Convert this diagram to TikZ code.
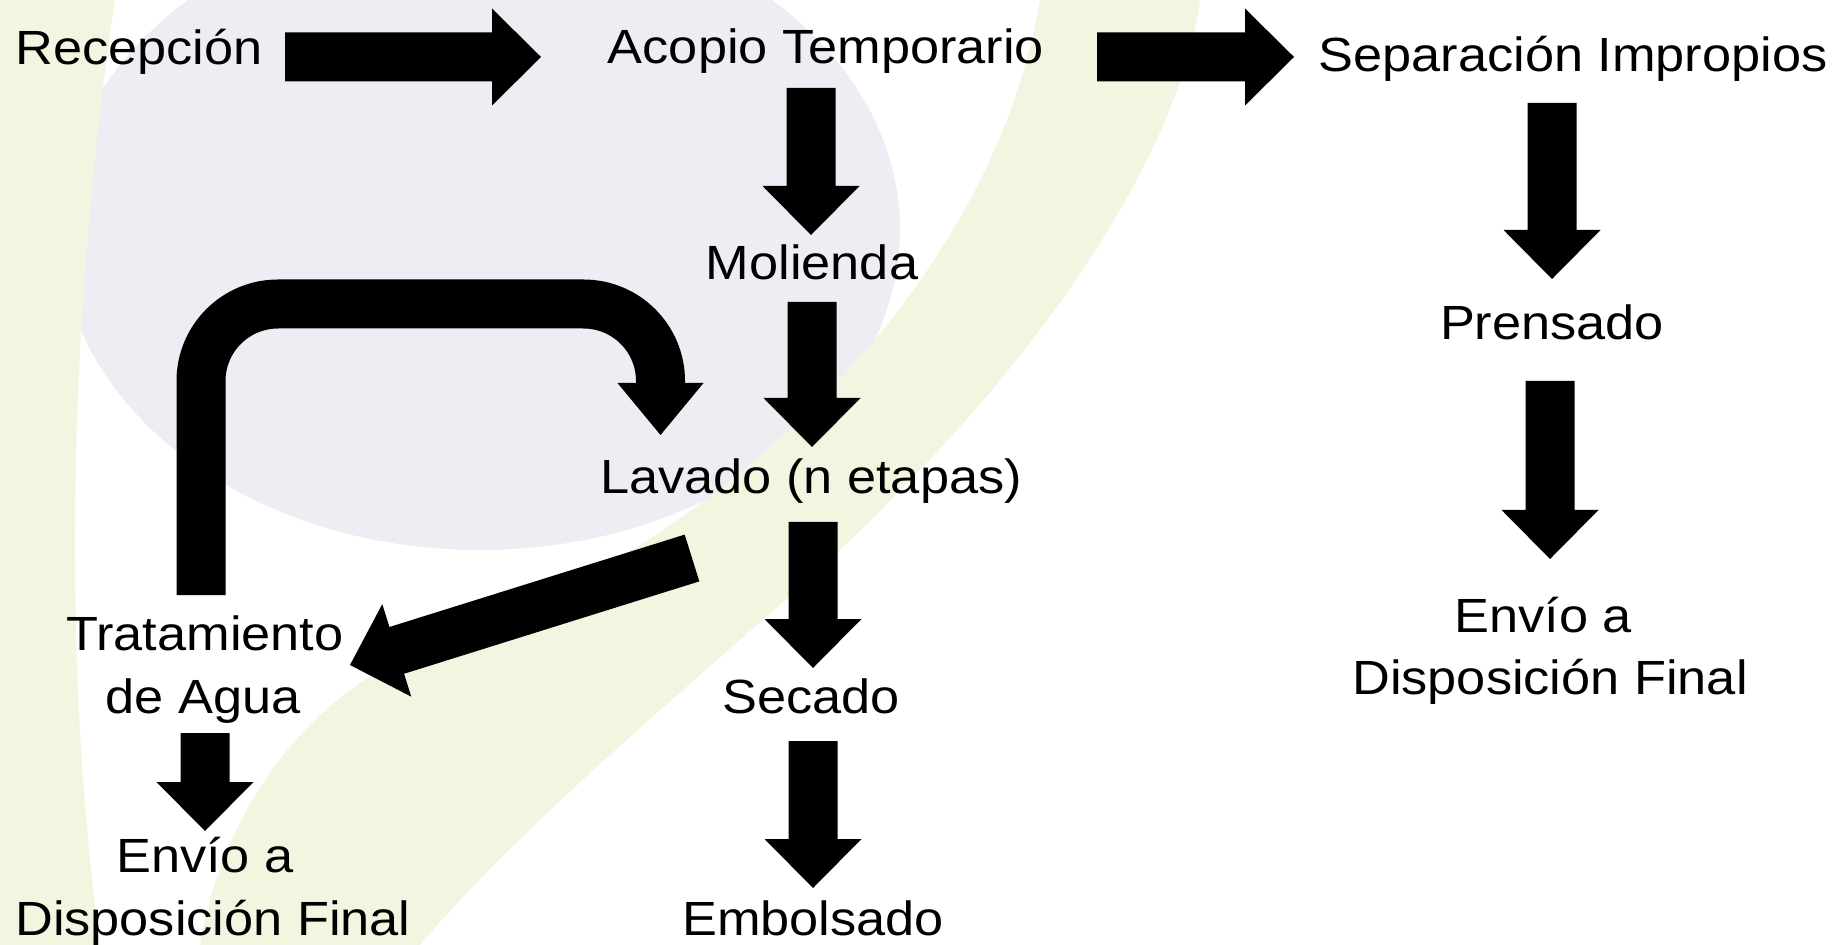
\documentclass[tikz,border=0pt]{standalone}
\usepackage{fontspec}
\setmainfont{Liberation Sans}
\usepackage{graphicx}
\usetikzlibrary{calc}
\definecolor{globe}{HTML}{EDEEF3}
\definecolor{leaf}{HTML}{F2F6E0}
\newcommand\sx[1]{\scalebox{1.09}[1]{#1}}
% block arrow from tail coordinate #1 to tip coordinate #2
\newcommand\blockarrow[2]{%
  \coordinate (hb) at ($(#2)!24.5pt!(#1)$);
  \fill[blk] ($(#1)!12.25pt!90:(#2)$) -- ($(hb)!12.25pt!90:(#2)$) -- ($(hb)!24.25pt!90:(#2)$) -- (#2)
     -- ($(hb)!24.25pt!-90:(#2)$) -- ($(hb)!12.25pt!-90:(#2)$) -- ($(#1)!12.25pt!-90:(#2)$) -- cycle;}
\begin{document}
\begin{tikzpicture}[x=0.5pt,y=-0.5pt,
  lbl/.style={anchor=base,inner sep=0pt,font=\fontsize{24}{29}\selectfont},
  blk/.style={fill=black}]
\useasboundingbox (0,0) rectangle (1839,945);
\fill[white] (0,0) rectangle (1839,945);
% faint watermark (globe and leaves)
\fill[globe] (480,230) ellipse [x radius=420, y radius=320];
\fill[leaf] (0,0) -- (115,0) .. controls (70,300) and (60,650) .. (100,945) -- (0,945) -- cycle;
\fill[leaf] (1040,0) .. controls (990,300) and (700,560) .. (420,650) .. controls (300,700) and (220,820) .. (200,945) -- (420,945) .. controls (560,780) and (800,600) .. (900,490) .. controls (1050,340) and (1180,150) .. (1200,0) -- cycle;
% labels
\node[lbl] (rec) at (139,65) {\sx{Recepción}};
\node[lbl] (aco) at (826,64) {\sx{Acopio Temporario}};
\node[lbl] (sep) at (1573,72) {\sx{Separación Impropios}};
\node[lbl] (mol) at (812,280) {\sx{Molienda}};
\node[lbl] (lav) at (811,494) {\sx{Lavado (n etapas)}};
\node[lbl] (pre) at (1552,340) {\sx{Prensado}};
\node[lbl] (envR) at (1543,632) {\sx{Envío a}};
\node[lbl] (disR) at (1550,694) {\sx{Disposición Final}};
\node[lbl] (tra) at (205,650) {\sx{Tratamiento}};
\node[lbl] (agu) at (203,713) {\sx{de Agua}};
\node[lbl] (sec) at (811,713) {\sx{Secado}};
\node[lbl] (envL) at (205,872) {\sx{Envío a}};
\node[lbl] (disL) at (213,935) {\sx{Disposición Final}};
\node[lbl] (emb) at (813,935) {\sx{Embolsado}};
% arrow end points
\coordinate (h1s) at (285,57);   \coordinate (h1e) at (541,57);
\coordinate (h2s) at (1097,57);  \coordinate (h2e) at (1294,57);
\coordinate (v1s) at (811,88);   \coordinate (v1e) at (811,235);
\coordinate (v2s) at (812,302);  \coordinate (v2e) at (812,447);
\coordinate (v3s) at (813,522);  \coordinate (v3e) at (813,668);
\coordinate (v4s) at (813,741);  \coordinate (v4e) at (813,888);
\coordinate (v5s) at (205,733);  \coordinate (v5e) at (205,831);
\coordinate (v6s) at (1552,103); \coordinate (v6e) at (1552,279);
\coordinate (v7s) at (1550,381); \coordinate (v7e) at (1550,559);
\coordinate (ds) at (692,558);   \coordinate (de) at (350,665);
\blockarrow{h1s}{h1e}
\blockarrow{h2s}{h2e}
\blockarrow{v1s}{v1e}
\blockarrow{v2s}{v2e}
\blockarrow{v3s}{v3e}
\blockarrow{v4s}{v4e}
\blockarrow{v5s}{v5e}
\blockarrow{v6s}{v6e}
\blockarrow{v7s}{v7e}
\blockarrow{ds}{de}
% return loop from water treatment to washing
\coordinate (cs) at (201,595);
\coordinate (cb) at (660.5,383);
\coordinate (ce) at (660.5,435);
\draw[line width=24.5pt, rounded corners=38.5pt] (cs) -- (201,304) -- (660.5,304) -- (cb);
\fill[blk] ($(cb)+(-43,0)$) -- ($(cb)+(43,0)$) -- (ce) -- cycle;
\end{tikzpicture}
\end{document}
